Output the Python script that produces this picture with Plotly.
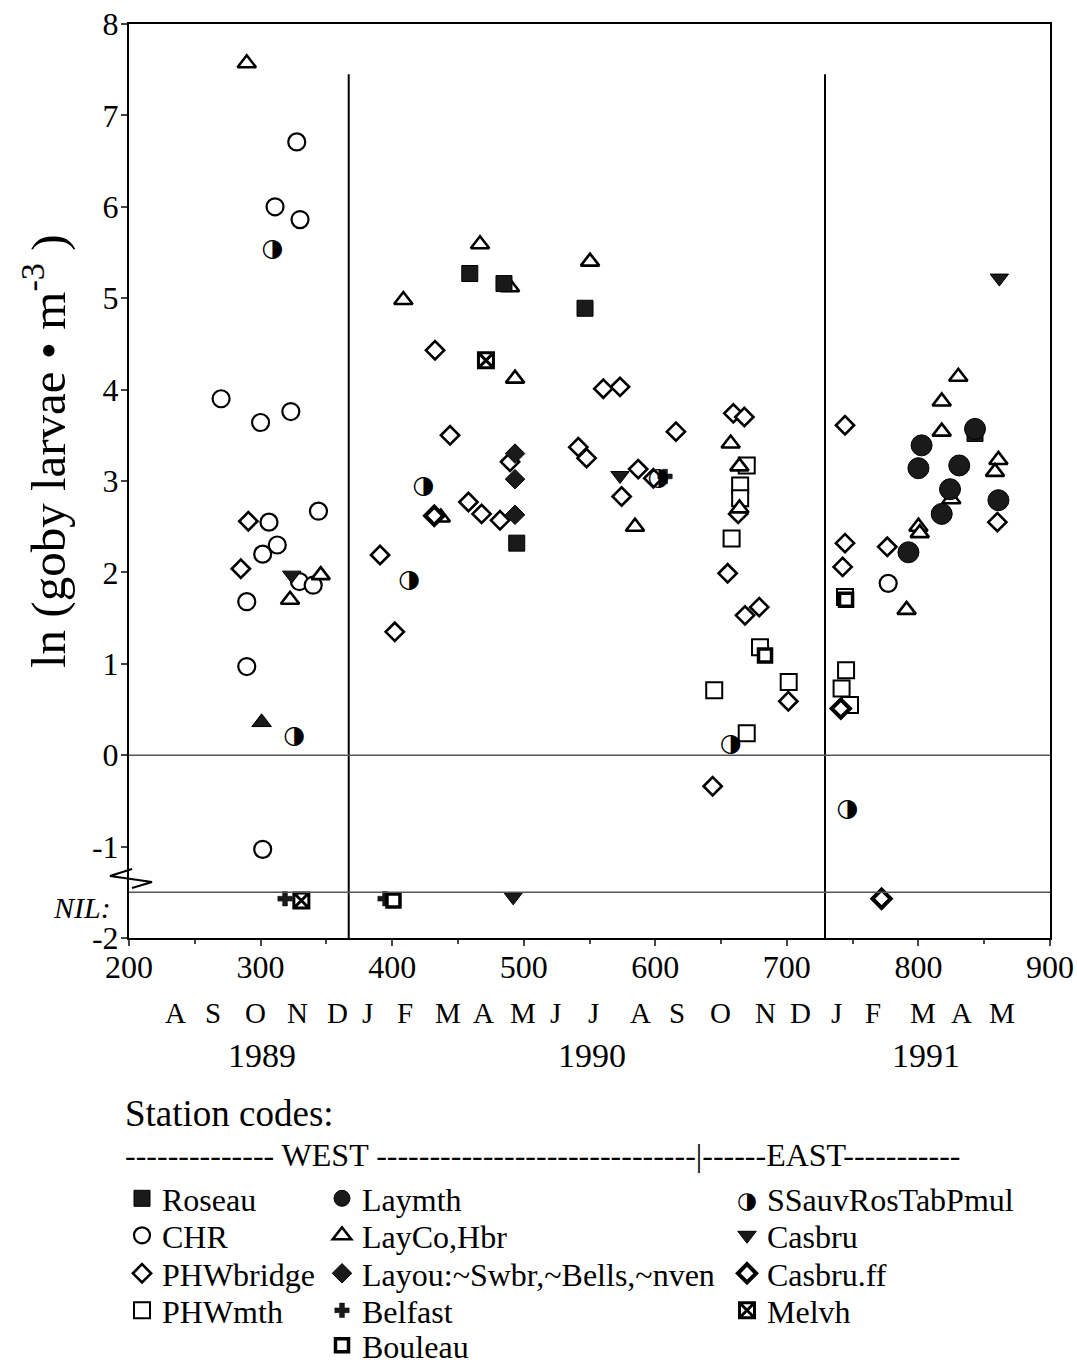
import plotly.graph_objects as go

# ---------------- data: x = day number, y = ln(goby larvae per m3) ----------------
roseau_x = [459, 485, 546.6, 494.7, 843]
roseau_y = [5.27, 5.16, 4.89, 2.32, 3.52]

chr_x = [327.5, 311, 330, 270, 300, 323, 306.4, 344, 312.7, 301.6, 329.5, 340, 289.5, 289.5, 301.6, 777]
chr_y = [6.71, 6.00, 5.86, 3.90, 3.64, 3.76, 2.55, 2.67, 2.30, 2.20, 1.90, 1.86, 1.68, 0.97, -1.03, 1.88]

phwbridge_x = [290.7, 285, 390.8, 402, 432.6, 444, 458, 468, 482, 489.6, 541.5, 547.8, 560.5, 573.2,
               574.4, 587, 598.5, 615.7, 659.3, 667.7, 663, 655, 668.2, 679, 701.1, 643.6, 744.2,
               744.2, 742.4, 776.3, 860]
phwbridge_y = [2.56, 2.04, 2.19, 1.35, 4.43, 3.50, 2.77, 2.64, 2.57, 3.21, 3.37, 3.25, 4.01, 4.03,
               2.83, 3.13, 3.03, 3.54, 3.74, 3.70, 2.64, 1.99, 1.53, 1.62, 0.59, -0.34, 3.61,
               2.32, 2.06, 2.28, 2.55]

phwmth_x = [669.5, 664.5, 664.5, 658, 679.6, 644.8, 701.4, 669.5, 744.2, 745, 741.6, 748]
phwmth_y = [3.17, 2.95, 2.81, 2.37, 1.18, 0.71, 0.80, 0.24, 1.73, 0.93, 0.73, 0.55]

laymth_x = [802.4, 800, 831, 824, 817.7, 843, 860.8, 792.4]
laymth_y = [3.39, 3.14, 3.17, 2.91, 2.64, 3.57, 2.79, 2.22]

layco_x = [289.5, 345.7, 322.4, 466.8, 489.6, 550.4, 408.5, 493.4, 437, 584.6, 657.3, 663.9, 664,
           830.3, 817.7, 817.7, 860.8, 858.2, 800, 801, 791, 825]
layco_y = [7.57, 1.97, 1.70, 5.59, 5.12, 5.40, 4.98, 4.12, 2.60, 2.50, 3.41, 3.16, 2.70,
           4.14, 3.87, 3.54, 3.23, 3.10, 2.50, 2.43, 1.59, 2.80]

layou_x = [493.4, 493.4, 493.4]
layou_y = [3.30, 3.02, 2.63]

belfast_x = [318.6, 394.6, 607.4]
belfast_y = [-1.57, -1.57, 3.05]

bouleau_x = [401, 683.4, 745]
bouleau_y = [-1.59, 1.09, 1.70]

ssauv_x = [309, 325.6, 423.7, 413, 602.3, 657.3, 746]
ssauv_y = [5.53, 0.20, 2.94, 1.91, 3.03, 0.11, -0.60]

casbru_x = [323.7, 573.2, 492, 861.5]
casbru_y = [1.97, 3.06, -1.55, 5.22]

casbruff_x = [432, 741, 772]
casbruff_y = [2.62, 0.51, -1.57]

melvh_x = [471.3, 331]
melvh_y = [4.32, -1.59]

other_x = [300.8]          # unlabelled filled triangle
other_y = [0.36]

year_breaks = [367, 729]    # 1 Jan 1990, 1 Jan 1991
nil_level = -1.5

x_ticks = [200, 300, 400, 500, 600, 700, 800, 900]
y_ticks = [-2, -1, 0, 1, 2, 3, 4, 5, 6, 7, 8]
y_ticklabels = ["-2", "-1", "0", "1", "2", "3", "4", "5", "6", "7", "8"]

month_letters = ["A", "S", "O", "N", "D", "J", "F", "M", "A", "M", "J", "J", "A", "S", "O", "N", "D",
                 "J", "F", "M", "A", "M"]
month_pos = [235.7, 263.8, 295.8, 327.7, 358.1, 380.9, 409.8, 442.5, 469.1, 499.5, 523.8, 553.4,
             588.4, 616.5, 649.2, 683.4, 710.0, 738.1, 765.5, 803.5, 833.1, 863.5]
years = ["1989", "1990", "1991"]
year_pos = [301, 552, 806]

# ---------------- layout geometry (page pixels) ----------------
W, H = 1077, 1362
L, R, T, B = 129, 1050, 24, 938
PW, PH = R - L, B - T


def px(xp):
    return (xp - L) / PW


def py(yp):
    return (B - yp) / PH


SERIF = "Liberation Serif"
BLK = "black"
LEG_FONT = 32
COL_LEFT = [122, 322, 727]
ROW_Y = [1200, 1237, 1275, 1312, 1347]

fig = go.Figure()
legends = {}


def legend_key(col, row):
    idx = len(legends) + 1
    key = "legend" if idx == 1 else f"legend{idx}"
    legends[key] = dict(x=px(COL_LEFT[col]), y=py(ROW_Y[row] - 29), xanchor="left", yanchor="top",
                        font=dict(family=SERIF, size=LEG_FONT, color=BLK),
                        bgcolor="rgba(0,0,0,0)", borderwidth=0, itemsizing="trace")
    return key


def add(name, x, y, marker, col, row):
    fig.add_trace(go.Scatter(x=x, y=y, mode="markers", name=name, marker=marker,
                             legend=legend_key(col, row), cliponaxis=False))


add("PHWbridge", phwbridge_x, phwbridge_y,
    dict(symbol="diamond", size=14, color="white", line=dict(color=BLK, width=2.6)), 0, 2)
add("PHWmth", phwmth_x, phwmth_y,
    dict(symbol="square", size=16, color="white", line=dict(color=BLK, width=2)), 0, 3)
add("CHR", chr_x, chr_y,
    dict(symbol="circle", size=17, color="white", line=dict(color=BLK, width=2.2)), 0, 1)
add("LayCo,Hbr", layco_x, layco_y,
    dict(symbol="triangle-up", size=16, color="white", line=dict(color=BLK, width=2.6)), 1, 1)
add("Roseau", roseau_x, roseau_y,
    dict(symbol="square", size=16, color="#1a1a1a", line=dict(color=BLK, width=1)), 0, 0)
add("Laymth", laymth_x, laymth_y,
    dict(symbol="circle", size=21, color="#1a1a1a", line=dict(color=BLK, width=1)), 1, 0)
add("Layou:~Swbr,~Bells,~nven", layou_x, layou_y,
    dict(symbol="diamond", size=15, color="#1a1a1a", line=dict(color=BLK, width=1)), 1, 2)
add("Belfast", belfast_x, belfast_y,
    dict(symbol="cross", size=12, color="#1a1a1a", line=dict(color=BLK, width=0.5)), 1, 3)
add("Bouleau", bouleau_x, bouleau_y,
    dict(symbol="square", size=13, color="white", line=dict(color=BLK, width=3.5)), 1, 4)
add("Casbru", casbru_x, casbru_y,
    dict(symbol="triangle-down", size=16, color="#1a1a1a", line=dict(color=BLK, width=1)), 2, 1)
add("Casbru.ff", casbruff_x, casbruff_y,
    dict(symbol="diamond", size=14, color="white", line=dict(color=BLK, width=4)), 2, 2)
add("Melvh", melvh_x, melvh_y,
    dict(symbol="square-x-open", size=15, color=BLK, line=dict(color=BLK, width=3)), 2, 3)

fig.add_trace(go.Scatter(x=other_x, y=other_y, mode="markers", name="unlabelled", showlegend=False,
                         marker=dict(symbol="triangle-up", size=17, color="#1a1a1a",
                                     line=dict(color=BLK, width=1)), cliponaxis=False))

# half-filled circles drawn as glyphs
fig.add_trace(go.Scatter(x=ssauv_x, y=ssauv_y, mode="text", text=["◑"] * len(ssauv_x),
                         name="SSauvRosTabPmul points", textposition="middle center",
                         showlegend=False, cliponaxis=False,
                         textfont=dict(family="DejaVu Sans", size=25, color=BLK)))
# legend entry for the half-filled circle (symbol is overlaid as a glyph)
ss_key = legend_key(2, 0)
fig.add_trace(go.Scatter(x=[None], y=[None], mode="markers", name="SSauvRosTabPmul", legend=ss_key,
                         marker=dict(symbol="circle", size=15, color="rgba(0,0,0,0)",
                                     line=dict(color="rgba(0,0,0,0)", width=0))))

shapes = []
for xb in year_breaks:
    shapes.append(dict(type="line", xref="x", yref="y", x0=xb, x1=xb, y0=-2, y1=7.45,
                       line=dict(color=BLK, width=2)))
for yl in [0, nil_level]:
    shapes.append(dict(type="line", xref="x", yref="y", x0=200, x1=900, y0=yl, y1=yl,
                       line=dict(color="#555555", width=1.5)))
# axis break zigzag
zz = [(132, 869), (110, 876), (152, 882), (132, 888)]
path = "M " + " L ".join(f"{px(a):.5f},{py(b):.5f}" for a, b in zz)
shapes.append(dict(type="path", xref="paper", yref="paper", path=path,
                   line=dict(color=BLK, width=2)))


def note(x, y, text, size, xref="paper", xanchor="center", family=SERIF, angle=0):
    return dict(x=x, y=y, xref=xref, yref="paper", text=text, showarrow=False,
                xanchor=xanchor, yanchor="middle", textangle=angle,
                font=dict(family=family, size=size, color=BLK))


annotations = []
for m, xm in zip(month_letters, month_pos):
    annotations.append(note(xm, py(1013), m, 29, xref="x"))
for yr, xy in zip(years, year_pos):
    annotations.append(note(xy, py(1055), yr, 34, xref="x"))
annotations.append(note(px(82), py(907), "<i>NIL:</i>", 30))
annotations.append(note(px(44), py(451), "ln (goby larvae • m<sup>-3</sup> )", 49, angle=-90))
annotations.append(note(px(123), py(1113), "Station codes:", 37, xanchor="left"))
annotations.append(note(px(123), py(1155),
                        "-------------- WEST ------------------------------|------EAST-----------",
                        32, xanchor="left"))
# glyph for the half-filled circle legend symbol
annotations.append(note(px(COL_LEFT[2] + 20), py(ROW_Y[0]), "◑", 23, family="DejaVu Sans"))

fig.update_layout(
    width=W, height=H,
    margin=dict(l=L, r=W - R, t=T, b=H - B, autoexpand=False),
    paper_bgcolor="white", plot_bgcolor="white",
    showlegend=True,
    shapes=shapes,
    annotations=annotations,
    xaxis=dict(range=[200, 900], tickvals=x_ticks, ticks="outside", ticklen=6, tickwidth=2,
               showline=True, linewidth=2, linecolor=BLK, mirror=True, showgrid=False,
               zeroline=False, tickfont=dict(family=SERIF, size=32, color=BLK),
               ticklabelstandoff=-6, ticklabeloverflow="allow",
               minor=dict(dtick=50, ticks="outside", ticklen=4, tickwidth=2, showgrid=False)),
    yaxis=dict(range=[-2, 8], tickvals=y_ticks, ticktext=y_ticklabels, ticks="outside",
               ticklen=6, tickwidth=2, showline=True, linewidth=2, linecolor=BLK, mirror=True,
               showgrid=False, zeroline=False, tickfont=dict(family=SERIF, size=32, color=BLK),
               ticklabelstandoff=-4, ticklabeloverflow="allow"),
)
fig.update_layout(**legends)

# place the figure flush with the page corner so the 1077x1362 window shows it whole
fig.write_html("out.html", config={"displayModeBar": False},
               post_script="document.body.style.margin='0';")
